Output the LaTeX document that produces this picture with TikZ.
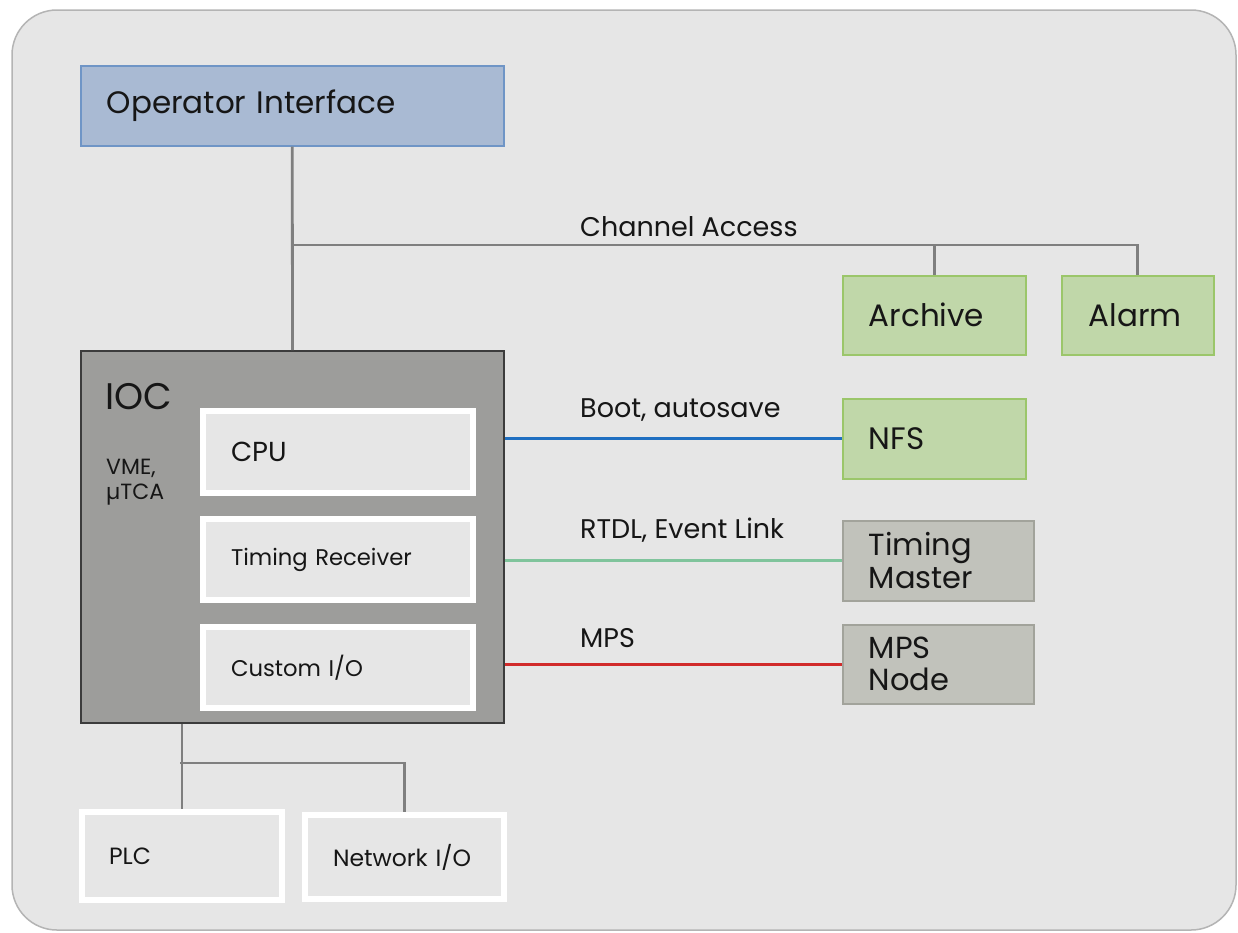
\documentclass[tikz,border=0pt]{standalone}
\usepackage{fontspec}
\setmainfont{Poppins}
\usetikzlibrary{calc}
\definecolor{bgc}{HTML}{E6E6E6}
\definecolor{outerc}{HTML}{B4B4B4}
\definecolor{oifill}{HTML}{A9BAD3}
\definecolor{oidraw}{HTML}{6F95C6}
\definecolor{grfill}{HTML}{C0D7A9}
\definecolor{grdraw}{HTML}{9BC66A}
\definecolor{gyfill}{HTML}{C1C2BB}
\definecolor{gydraw}{HTML}{A2A39B}
\definecolor{iocfill}{HTML}{9D9D9B}
\definecolor{iocdraw}{HTML}{3C3C3C}
\definecolor{linec}{HTML}{7F7F7F}
\definecolor{bluec}{HTML}{1F6FC1}
\definecolor{greenc}{HTML}{80C49C}
\definecolor{redc}{HTML}{D12B2B}
\definecolor{txt}{HTML}{161616}
\tikzset{
  box/.style={rectangle, anchor=north west, align=left, inner ysep=0pt, text=txt, line width=1.5pt},
  oibox/.style={box, fill=oifill, draw=oidraw},
  grbox/.style={box, fill=grfill, draw=grdraw},
  gybox/.style={box, fill=gyfill, draw=gydraw},
  whbox/.style={box, fill=bgc, draw=white, line width=6pt},
  conn/.style={draw=linec, line width=2.8pt},
  lbl/.style={anchor=west, inner sep=0pt, text=txt},
  bigf/.style={font=\fontsize{31}{34}\selectfont},
  twof/.style={font=\fontsize{30.5}{33}\selectfont},
  midf/.style={font=\fontsize{27}{30}\selectfont},
  smallf/.style={font=\fontsize{22.7}{26}\selectfont},
}
\begin{document}
\begin{tikzpicture}[x=1pt,y=-1pt]
\useasboundingbox (0,0) rectangle (1238,932);
\fill[white] (0,0) rectangle (1238,932);
\draw[fill=bgc, draw=outerc, line width=1.5pt, rounded corners=45pt] (12,10) rectangle (1236,930);

% Operator interface
\node[oibox, bigf, minimum width=423pt, minimum height=80pt, inner xsep=26pt, text width=371pt] (oi) at (80,65) {Operator Interface};

% right boxes
\node[grbox, bigf, minimum width=183pt, minimum height=79pt, inner xsep=26pt, text width=131pt] (archive) at (842,275) {Archive};
\node[grbox, bigf, minimum width=152pt, minimum height=79pt, inner xsep=27pt, text width=98pt] (alarm) at (1061,275) {Alarm};
\node[grbox, bigf, minimum width=183pt, minimum height=80pt, inner xsep=26pt, text width=131pt] (nfs) at (842,398) {NFS};
\node[gybox, twof, minimum width=191pt, minimum height=80pt, inner xsep=26pt, text width=139pt] (tm) at (842,520) {Timing\\Master};
\node[gybox, font=\fontsize{30.5}{32}\selectfont, minimum width=191pt, minimum height=79pt, inner xsep=26pt, text width=139pt] (mps) at (842,624) {MPS\\Node};

% IOC
\node[box, fill=iocfill, draw=iocdraw, line width=2pt, minimum width=423pt, minimum height=372pt] (ioc) at (80,350) {};
\node[lbl, font=\fontsize{37}{40}\selectfont] (ioclbl) at (105,397) {IOC};
\node[lbl, align=left, font=\fontsize{22}{25}\selectfont] (vme) at (106,482) {VME,\\µTCA};

\node[whbox, font=\fontsize{27.5}{30}\selectfont, minimum width=270pt, minimum height=82pt, inner xsep=28pt, text width=214pt] (cpu) at (200,408) {CPU};
\node[whbox, smallf, minimum width=270pt, minimum height=81pt, inner xsep=28pt, text width=214pt] (tr) at (200,516) {Timing Receiver};
\node[whbox, smallf, minimum width=270pt, minimum height=81pt, inner xsep=28pt, text width=214pt] (cio) at (200,624) {Custom I/O};

% bottom boxes
\node[whbox, font=\fontsize{23.5}{26}\selectfont, minimum width=200pt, minimum height=88pt, inner xsep=27pt, text width=146pt] (plc) at (79,809) {PLC};
\node[whbox, font=\fontsize{23.5}{26}\selectfont, minimum width=199pt, minimum height=84pt, inner xsep=28pt, text width=143pt] (nio) at (302,812) {Network I/O};

% connectors
\coordinate (ca) at (291.5,245);
\draw[conn] (oi.south) -- (ioc.north);
\draw[conn] (ca) -- (ca -| alarm.north) -- (alarm.north);
\draw[conn] (ca -| archive.north) -- (archive.north);
\node[lbl, midf] (calbl) at (580,227) {Channel Access};

\draw[draw=bluec, line width=2.8pt] (ioc.east |- nfs.west) -- (nfs.west);
\node[lbl, midf] (bootlbl) at (580,410) {Boot, autosave};
\draw[draw=greenc, line width=2.8pt] (ioc.east |- tm.west) -- (tm.west);
\node[lbl, midf] (rtdllbl) at (580,530) {RTDL, Event Link};
\draw[draw=redc, line width=2.8pt] (ioc.east |- mps.west) -- (mps.west);
\node[lbl, midf] (mpslbl) at (580,638) {MPS};

\coordinate (bj) at (180,763);
\draw[conn] (ioc.south -| plc.north) -- (plc.north);
\draw[conn] (bj) -| (nio.north);
\end{tikzpicture}
\end{document}
